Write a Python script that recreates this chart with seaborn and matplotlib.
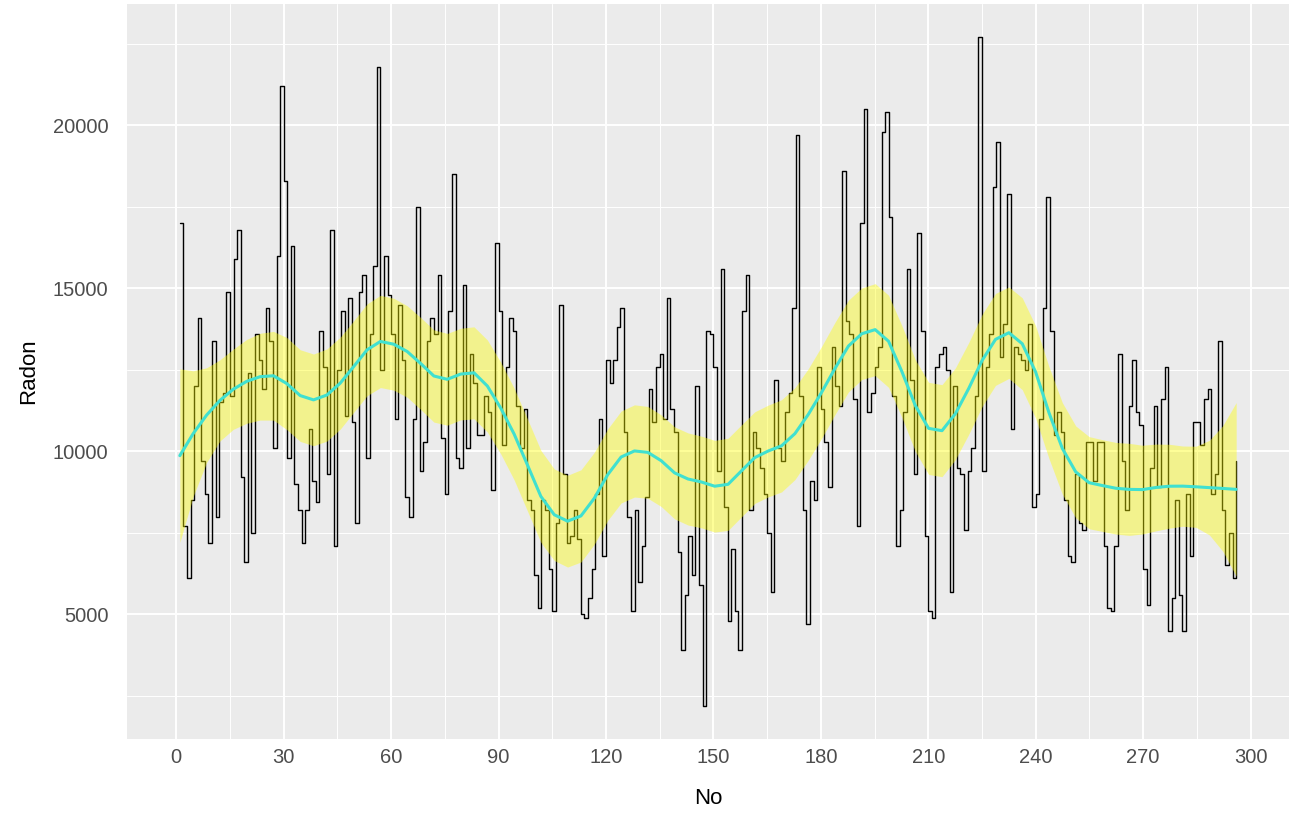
import numpy as np
import pandas as pd
import matplotlib
matplotlib.use("Agg")
import matplotlib.pyplot as plt
import seaborn as sns
from matplotlib.ticker import MultipleLocator

# estilo tipo ggplot (theme_grey)
sns.set_style("darkgrid", {"axes.facecolor": "#EBEBEB", "grid.color": "white"})
plt.rcParams["font.family"] = ["Liberation Sans", "DejaVu Sans"]

# valores de radón (No = 1..296)
radon_1_30 = [17000, 7700, 6100, 8500, 12000, 14100, 9700, 8700, 7200, 13400,
              8000, 11500, 11800, 14900, 11700, 15900, 16800, 9200, 6600, 12400,
              7500, 13600, 12800, 11900, 14400, 13400, 10100, 16000, 21200, 18300]
radon_31_60 = [9800, 16300, 9000, 8200, 7200, 8200, 10700, 9100, 8450, 13700,
               12600, 9300, 16800, 7100, 12500, 14300, 11100, 14700, 10900, 7800,
               14900, 15400, 9800, 13600, 15700, 21800, 12500, 16000, 14800, 13600]
radon_61_90 = [11000, 14500, 12800, 8600, 8000, 11000, 17500, 9400, 10300, 13400,
               14100, 13600, 15400, 10400, 8700, 14300, 18500, 9800, 9500, 15100,
               10100, 13000, 12100, 10500, 10500, 11700, 11200, 8800, 16400, 14300]
radon_91_120 = [10200, 12600, 14100, 13700, 11400, 10100, 11300, 8500, 8200, 6200,
                5200, 8500, 8200, 6400, 5100, 7800, 14500, 9300, 7200, 7400,
                8200, 7300, 5000, 4900, 5500, 6400, 8700, 11000, 6800, 12800]
radon_121_150 = [12100, 12800, 13800, 14400, 10600, 8000, 5100, 8200, 6000, 7100,
                 8600, 11900, 10900, 12600, 13000, 11000, 14700, 11300, 10600, 6900,
                 3900, 5600, 7400, 6200, 12000, 5900, 2200, 13700, 13600, 12600]
radon_151_180 = [9400, 15600, 8300, 4800, 7000, 5100, 3900, 14300, 15400, 8200,
                 10600, 10100, 9500, 8700, 7500, 5700, 12200, 10100, 9700, 11200,
                 11800, 14400, 19700, 11700, 8200, 4700, 9100, 8500, 12600, 11300]
radon_181_209 = [10300, 8900, 13200, 12000, 11400, 18600, 14000, 13600, 11600, 7700,
                 17000, 20500, 11200, 11800, 12600, 13200, 19800, 20400, 17200, 11700,
                 7100, 8200, 11200, 15600, 12200, 9300, 16700, 13700, 7400]
radon_210_239 = [5100, 4900, 12600, 13000, 13200, 12500, 5700, 12000, 9500, 9300,
                 7600, 9400, 10100, 11700, 22700, 9400, 12600, 13600, 18100, 19500,
                 12900, 13900, 17900, 10700, 13200, 13000, 12800, 12500, 13900, 8300]
radon_240_268 = [8700, 11000, 14400, 17800, 13700, 10500, 11200, 10600, 8500, 6800,
                 6600, 9300, 7800, 7600, 10300, 10300, 9100, 10300, 10300,
                 7100, 5200, 5100, 7100, 13000, 9700, 8200, 11400, 12800, 11200]
radon_269_296 = [10800, 6400, 5300, 9500, 11400, 8900, 11600, 12600, 4500, 5500,
                 8500, 5600, 4500, 8700, 6800, 10900, 10900, 10200, 11600, 11900,
                 8700, 9300, 13400, 8200, 6500, 7500, 6100, 9700]

radon = (radon_1_30 + radon_31_60 + radon_61_90 + radon_91_120 + radon_121_150
         + radon_151_180 + radon_181_209 + radon_210_239 + radon_240_268 + radon_269_296)
df = pd.DataFrame({"No": np.arange(1, len(radon) + 1), "Radon": radon})


# loess local cuadrático (como geom_smooth de ggplot)
def loess_matrix(x, x_eval, span):
    n = len(x)
    q = int(np.floor(n * span))
    L = np.zeros((len(x_eval), n))
    for k, x0 in enumerate(x_eval):
        d = np.abs(x - x0)
        h = np.sort(d)[q - 1]
        w = np.clip(1 - (d / h) ** 3, 0, None) ** 3
        X = np.column_stack([np.ones(n), x - x0, (x - x0) ** 2])
        XtW = X.T * w
        L[k] = np.linalg.solve(XtW @ X, XtW)[0]
    return L


span = 0.2
x = df["No"].to_numpy(dtype=float)
y = df["Radon"].to_numpy(dtype=float)
x_grid = np.linspace(x.min(), x.max(), 80)

L_obs = loess_matrix(x, x, span)
resid = y - L_obs @ y
M = np.eye(len(x)) - L_obs
one_delta = np.trace(M.T @ M)
sigma = np.sqrt(np.sum(resid ** 2) / one_delta)

L_grid = loess_matrix(x, x_grid, span)
fit = L_grid @ y
se = sigma * np.sqrt(np.sum(L_grid ** 2, axis=1))
lower = fit - 1.97 * se
upper = fit + 1.97 * se
df_smooth = pd.DataFrame({"No": x_grid, "fit": fit})

# figura
fig = plt.figure(figsize=(12.9, 8.19), dpi=100)
ax = fig.add_axes([127 / 1290, 80 / 819, 1162 / 1290, 735 / 819])

sns.lineplot(data=df, x="No", y="Radon", color="black", linewidth=1.0,
             drawstyle="steps-post", estimator=None, ax=ax, zorder=2)
ax.fill_between(x_grid, lower, upper, color="yellow", alpha=0.4, linewidth=0, zorder=3)
sns.lineplot(data=df_smooth, x="No", y="fit", color="#40E0D0", linewidth=2.2,
             estimator=None, ax=ax, zorder=4)

# escalas con expansión del 5%
x_rng = x.max() - x.min()
ax.set_xlim(x.min() - 0.05 * x_rng, x.max() + 0.05 * x_rng)
y_lo = min(y.min(), lower.min())
y_hi = max(y.max(), upper.max())
ax.set_ylim(y_lo - 0.05 * (y_hi - y_lo), y_hi + 0.05 * (y_hi - y_lo))

ax.xaxis.set_major_locator(MultipleLocator(30))
ax.xaxis.set_minor_locator(MultipleLocator(15))
ax.yaxis.set_major_locator(MultipleLocator(5000))
ax.yaxis.set_minor_locator(MultipleLocator(2500))
ax.grid(which="major", color="white", linewidth=1.4)
ax.grid(which="minor", color="white", linewidth=0.7)
ax.set_axisbelow(True)
for s in ax.spines.values():
    s.set_visible(False)

ax.tick_params(which="major", length=3.5, width=1, color="#333333",
               labelsize=14.5, labelcolor="#4D4D4D")
ax.tick_params(axis="x", which="major", pad=3)
ax.tick_params(axis="y", which="major", pad=10)
ax.tick_params(which="minor", length=0)
ax.set_xlabel("No", fontsize=16, color="black", labelpad=15)
ax.set_ylabel("Radon", fontsize=16, color="black", labelpad=10)

fig.savefig("out.png", dpi=100)
